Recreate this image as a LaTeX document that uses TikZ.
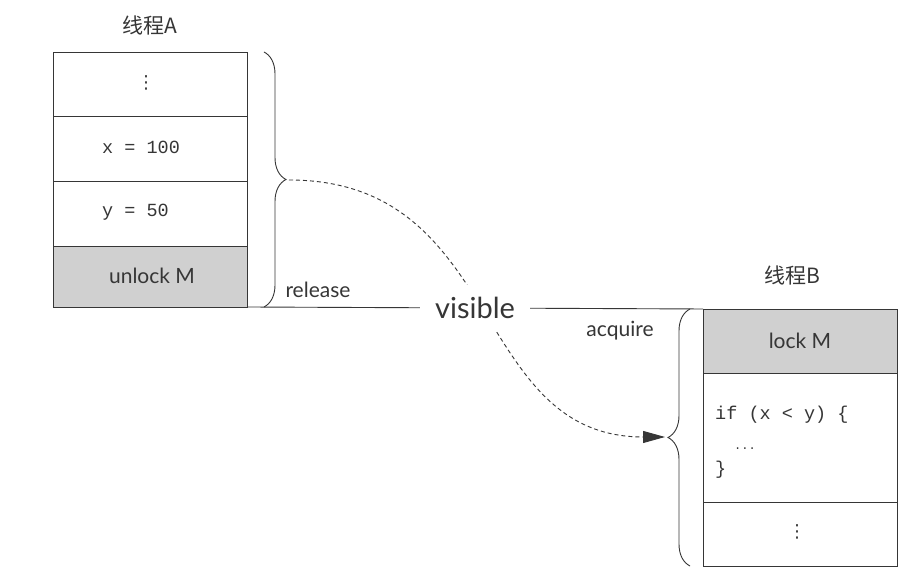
\documentclass[tikz,border=0pt]{standalone}
\usepackage{fontspec}
\setmainfont{Lato}
\setmonofont{Liberation Mono}
\newfontfamily\cjk{Noto Sans CJK SC}
\newfontfamily\dejavu{DejaVu Sans}
\usetikzlibrary{decorations.pathreplacing,arrows.meta,calc}
\definecolor{ink}{HTML}{363636}
\definecolor{shade}{HTML}{D0D0D0}
\begin{document}
\begin{tikzpicture}[x=1pt,y=1pt,
  cell/.style={draw=ink, line width=0.9pt, minimum width=194pt, inner sep=0pt, outer sep=0pt, anchor=north west},
  lock/.style={cell, fill=shade},
  lbl/.style={text=ink, font=\fontsize{21}{24}\selectfont, inner sep=0pt},
  code/.style={text=ink, font=\ttfamily\fontsize{18.5}{21}\selectfont, inner sep=0pt, anchor=west},
  title/.style={text=ink, font=\cjk\fontsize{21}{24}\selectfont, inner sep=0pt},
  dotsv/.style={text=ink, font=\dejavu\fontsize{18}{20}\selectfont, inner sep=0pt},
  bracestyle/.style={draw=ink, line width=0.9pt, decorate, decoration={brace, amplitude=22pt}},
  flow/.style={draw=ink, line width=0.9pt, dash pattern=on 4pt off 3pt, -{Triangle[length=22pt,width=12pt]}},
  rule/.style={draw=ink, line width=0.9pt}]
\useasboundingbox (0,0) rectangle (922,577);
\fill[white] (0,0) rectangle (922,577);

% thread A
\node[title] (ta) at (150,552) {线程A};
\node[cell, minimum height=64pt] (a1) at (53,525) {};
\node[cell, minimum height=65pt] (a2) at (53,461) {};
\node[cell, minimum height=65pt] (a3) at (53,396) {};
\node[lock, minimum height=61pt] (a4) at (53,331) {};
\node[dotsv] (da) at ($(a1.center)+(-4,1)$) {⋮};
\node[code] (xa) at ($(a2.west)+(49,1)$) {x = 100};
\node[code] (ya) at ($(a3.west)+(49,1)$) {y = 50};
\node[lbl] (ua) at ($(a4.center)+(2,1)$) {unlock M};

% thread B
\node[title] (tb) at (792,302) {线程B};
\node[lock, minimum height=64pt] (b1) at (703,268) {};
\node[cell, minimum height=129pt] (b2) at (703,204) {};
\node[cell, minimum height=64pt] (b3) at (703,75) {};
\node[lbl] (lb) at (b1.center) {lock M};
\node[code] (c1) at (715,162) {if (x < y) \{};
\node[code, font=\ttfamily\fontsize{12}{13}\selectfont] (c2) at (734,128) {...};
\node[code] (c3) at (715,107) {\}};
\node[dotsv] (db) at ($(b3.center)+(-3,2)$) {⋮};

% braces
\draw[bracestyle] (264,525) -- (264,270);
\coordinate (atip) at (289,397);
\draw[bracestyle] (690,11) -- (690,268);
\coordinate (btip) at (665,140);

\node[lbl] (rel) at (318,287) {release};
\node[lbl] (acq) at (620,246) {acquire};

% dashed flow
\draw[flow] (atip) .. controls (505,397) and (470,140) .. (btip);

% visible line
\draw[rule] (a4.south east) -- node[fill=white, text=ink, font=\fontsize{29}{32}\selectfont, inner xsep=15pt, inner ysep=0pt, minimum height=46pt] (vis) {visible} (b1.north west);
\end{tikzpicture}
\end{document}
